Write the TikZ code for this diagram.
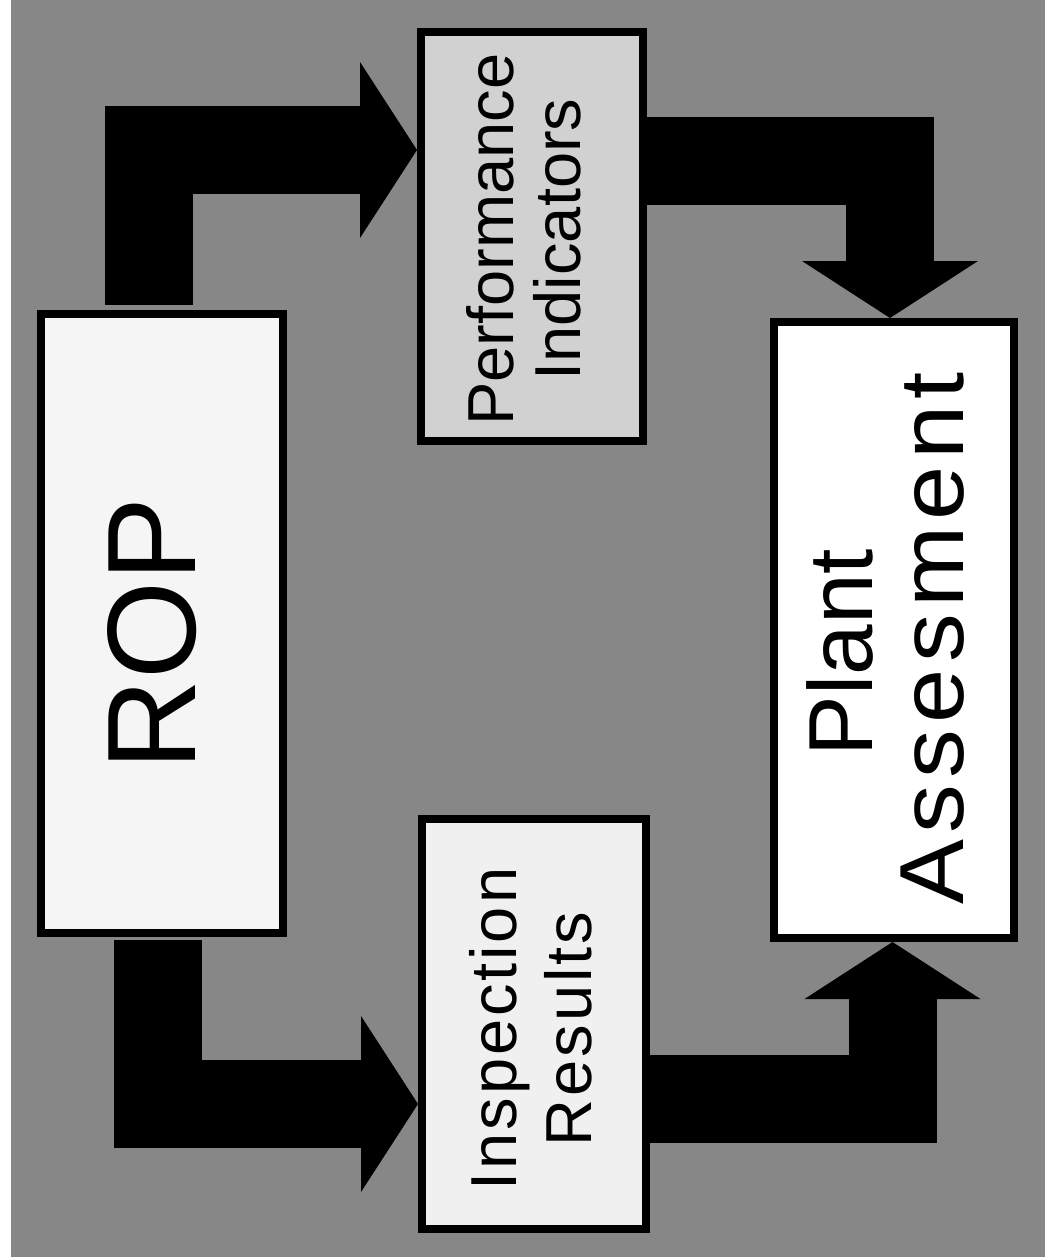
\documentclass[tikz,border=0pt]{standalone}
\usepackage{fontspec}
\setmainfont{Liberation Sans}
\newfontfamily\trackIR[LetterSpace=4.5]{Liberation Sans}
\newfontfamily\trackPA[FakeStretch=1.07,LetterSpace=7]{Liberation Sans}
\usetikzlibrary{arrows.meta}
\definecolor{bggray}{gray}{0.53}
\definecolor{pifill}{gray}{0.82}
\definecolor{irfill}{gray}{0.94}
\definecolor{ropfill}{gray}{0.96}

\begin{document}
\begin{tikzpicture}[x=1pt, y=-1pt,
  box/.style={draw=black, line width=8pt, rectangle, inner sep=0pt},
  lbl/.style={rotate=90, align=center, inner sep=0pt},
  blockarrow/.style={line width=88pt, -{Triangle[length=57pt,width=176pt,line width=0pt]}}]

\useasboundingbox (0,0) rectangle (1045,1257);
\fill[white] (0,0) rectangle (1045,1257);
\fill[bggray] (11,0) rectangle (1045,1257);

\node[box, fill=ropfill, minimum width=242pt, minimum height=619pt] (rop) at (162,623.5) {};
\node[box, fill=pifill, minimum width=222pt, minimum height=409pt] (pi) at (532,236.5) {};
\node[box, fill=irfill, minimum width=224pt, minimum height=410pt] (ir) at (534,1024) {};
\node[box, fill=white, minimum width=240pt, minimum height=616pt] (pa) at (894,630) {};

\node[lbl, font=\fontsize{126pt}{130pt}\selectfont] (roptxt) at ([xshift=-10pt,yshift=-10pt]rop.center) {ROP};
\node[lbl, font=\fontsize{65pt}{67pt}\selectfont] (pitxt) at ([xshift=-8.5pt,yshift=-3pt]pi.center) {Performance\\Indicators};
\node[lbl, font=\fontsize{65pt}{75pt}\trackIR] (irtxt) at ([xshift=-3pt,yshift=-5pt]ir.center) {Inspection\\Results};
\node[lbl, font=\fontsize{91pt}{91pt}\selectfont] (patxt) at ([xshift=-9pt,yshift=-8.5pt]pa.center) {Plant\hspace*{28pt}\\{\trackPA Assesment}};

\draw[blockarrow] ([xshift=-13pt,yshift=5pt]rop.north) |- ([yshift=86.5pt]pi.west);
\draw[blockarrow] ([yshift=75pt]pi.east) -| ([xshift=-4pt]pa.north);
\draw[blockarrow] ([xshift=-4.5pt,yshift=-3pt]rop.south) |- ([yshift=-80pt]ir.west);
\draw[blockarrow] ([yshift=-74.5pt]ir.east) -| ([xshift=-1.5pt]pa.south);

\end{tikzpicture}
\end{document}
